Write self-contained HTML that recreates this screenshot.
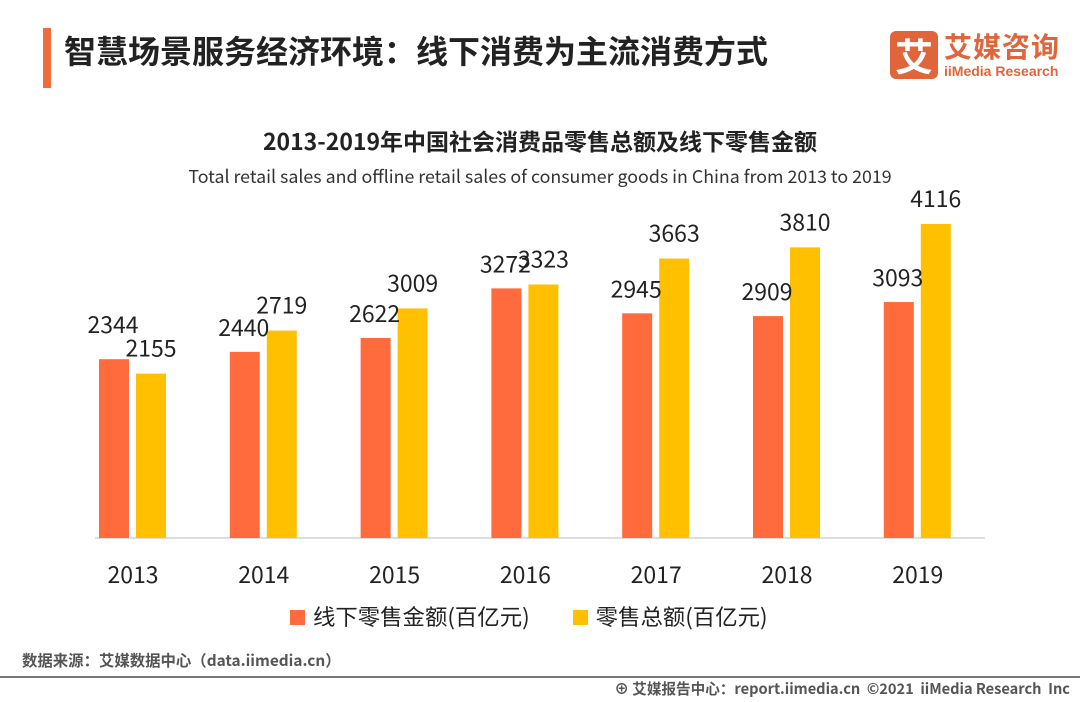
<!DOCTYPE html>
<html><head><meta charset="utf-8"><style>
body{margin:0;width:1080px;height:702px;background:#fff;overflow:hidden;position:relative;font-family:"Liberation Sans","Noto Sans CJK SC",sans-serif}
.abs{position:absolute}
</style></head><body>
<div class="abs" style="left:43px;top:28px;width:8px;height:60px;background:#f26b3a"></div>
<div class="abs" style="left:64px;top:27px;font-size:32px;font-weight:bold;color:#222;font-family:'Noto Sans CJK SC',sans-serif">智慧场景服务经济环境：线下消费为主流消费方式</div>
<div class="abs" style="left:890px;top:31px;width:172px;height:50px">
 <div class="abs" style="left:0;top:0;width:48px;height:48px;background:#e0653a;border-radius:6px;color:#fff;font-size:38px;font-weight:bold;text-align:center;line-height:48px;font-family:'Noto Sans CJK SC',sans-serif">艾</div>
 <div class="abs" style="left:54px;top:-5px;font-size:28px;font-weight:bold;color:#e0653a;font-family:'Noto Sans CJK SC',sans-serif;letter-spacing:1px">艾媒咨询</div>
 <div class="abs" style="left:54px;top:32px;font-size:14px;font-weight:bold;color:#e0653a">iiMedia Research</div>
</div>
<div class="abs" style="left:0;width:1080px;top:123px;text-align:center;font-size:23px;font-weight:bold;color:#222;font-family:'Noto Sans CJK SC',sans-serif">2013-2019年中国社会消费品零售总额及线下零售金额</div>
<div class="abs" style="left:0;width:1080px;top:163px;text-align:center;font-size:17.8px;color:#333;font-family:'Noto Sans CJK SC',sans-serif">Total retail sales and offline retail sales of consumer goods in China from 2013 to 2019</div>
<svg class="abs" style="left:0;top:0" width="1080" height="702" id="chart"></svg>
<div class="abs" style="left:290px;top:600px;font-size:22.4px;color:#222;font-family:'Noto Sans CJK SC',sans-serif">
 <span><span style="display:inline-block;width:15px;height:15px;background:#ff6b3d;margin-right:8px"></span>线下零售金额(百亿元)</span>
 <span style="margin-left:38px"><span style="display:inline-block;width:15px;height:15px;background:#ffc000;margin-right:8px"></span>零售总额(百亿元)</span>
</div>
<div class="abs" style="left:22px;top:649px;font-size:15.4px;font-weight:bold;color:#555;font-family:'Noto Sans CJK SC',sans-serif">数据来源：艾媒数据中心（data.iimedia.cn）</div>
<div class="abs" style="left:0;top:676px;width:1080px;height:2px;background:#777"></div>
<div class="abs" style="right:10px;top:678px;font-size:14.6px;font-weight:bold;color:#555;font-family:'Noto Sans CJK SC',sans-serif">⊕ 艾媒报告中心：report.iimedia.cn &nbsp;©2021 &nbsp;iiMedia Research &nbsp;Inc</div>
<script>
const categories=["2013","2014","2015","2016","2017","2018","2019"];
const offline=[2344,2440,2622,3272,2945,2909,3093];
const total=[2155,2719,3009,3323,3663,3810,4116];
const svg=document.getElementById('chart');
const NS='http://www.w3.org/2000/svg';
const base=538,scale=314/4116,x0=133,step=130.8;
const y=v=>base-v*scale, xc=i=>x0+i*step;
const FF="'Noto Sans CJK SC',sans-serif";
function mk(t,a){const e=document.createElementNS(NS,t);for(const k in a)e.setAttribute(k,a[k]);svg.appendChild(e);return e;}
const ax=mk('line',{x1:95,x2:985,y1:base,y2:base,stroke:'#bbb','stroke-width':1});


categories.forEach((c,i)=>{
 const cx=xc(i);
 const b1=mk('rect',{x:cx-34,y:y(offline[i]),width:30,height:offline[i]*scale,fill:'#ff6b3d'});
 
 
 const b2=mk('rect',{x:cx+3,y:y(total[i]),width:30,height:total[i]*scale,fill:'#ffc000'});
 
 
 const lift=(offline[i]>total[i]+100)?26:16;
 const t1=mk('text',{x:cx-20,y:y(offline[i])-lift,'text-anchor':'middle','font-size':23,fill:'#222','font-family':FF});
 t1.textContent=offline[i];
 
 
 const t2=mk('text',{x:cx+18,y:y(total[i])-17,'text-anchor':'middle','font-size':23,fill:'#222','font-family':FF});
 t2.textContent=total[i];
 
 
 const tl=mk('text',{x:cx,y:583,'text-anchor':'middle','font-size':23,fill:'#222','font-family':FF});
 tl.textContent=c;
 
 
});
</script>
</body></html>
